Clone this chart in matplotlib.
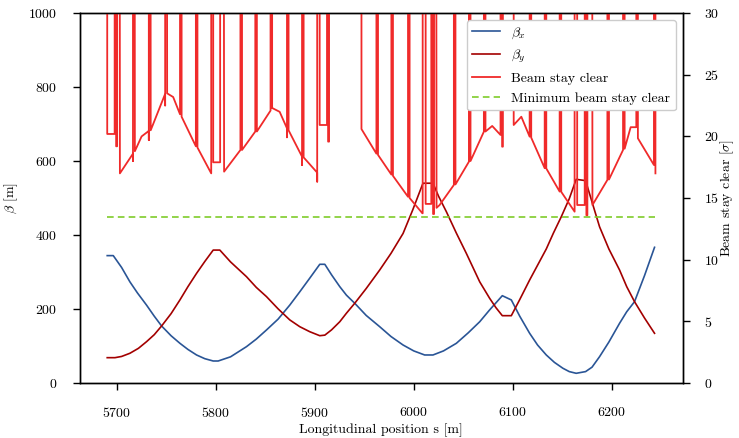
import matplotlib
matplotlib.use('Agg')
import matplotlib.pyplot as plt

plt.rcParams['font.family'] = 'serif'
plt.rcParams['font.serif'] = ['cmr10']
plt.rcParams['mathtext.fontset'] = 'cm'
plt.rcParams['axes.formatter.use_mathtext'] = True
plt.rcParams['font.size'] = 10

# beta functions [m] vs s [m]
betx_s = [5690.5, 5696.6, 5705.0, 5713.4, 5721.0, 5730.2, 5738.0, 5745.4, 5755.0, 5763.9,
          5772.0, 5780.7, 5789.0, 5797.5, 5802.5, 5815.0, 5831.1, 5841.0, 5851.3, 5863.0,
          5874.8, 5884.9, 5895.0, 5905.1, 5910.2, 5917.0, 5925.3, 5932.0, 5940.4, 5952.0,
          5965.6, 5977.0, 5989.2, 6000.0, 6011.0, 6019.4, 6030.0, 6043.0, 6055.0, 6066.6,
          6076.6, 6089.4, 6098.5, 6107.0, 6117.0, 6125.0, 6133.8, 6142.0, 6150.6, 6157.0,
          6164.0, 6173.5, 6180.0, 6187.6, 6197.0, 6207.8, 6215.0, 6222.9, 6233.0, 6243.1]
betx = [344, 344, 312, 273, 243, 210, 180, 153.5, 127, 106.6,
        90, 75, 65, 58.7, 58.7, 70, 97.5, 118, 142.7, 172,
        210, 246, 283, 320.5, 320.5, 292, 260, 237, 215, 182,
        151.6, 125, 102, 86, 75, 75, 86, 106.6, 135, 165,
        197, 235.5, 224, 180, 133.7, 102, 75, 55, 39, 30,
        25.4, 30, 42, 70.4, 110, 160.8, 192, 219.3, 290, 366.5]

bety_s = [5690.5, 5698.3, 5705.0, 5713.4, 5722.0, 5730.2, 5738.0, 5745.4, 5755.0, 5763.9,
          5772.0, 5780.7, 5789.0, 5797.5, 5804.2, 5815.0, 5831.1, 5841.0, 5851.3, 5863.0,
          5874.8, 5884.9, 5895.0, 5905.1, 5910.2, 5917.0, 5925.3, 5932.0, 5940.4, 5952.0,
          5965.6, 5977.0, 5989.2, 5999.0, 6009.3, 6019.4, 6025.0, 6032.9, 6043.0, 6053.1,
          6066.6, 6076.6, 6083.0, 6089.4, 6098.5, 6107.0, 6117.0, 6125.0, 6133.8, 6141.0,
          6148.9, 6157.0, 6164.0, 6173.5, 6180.0, 6187.6, 6197.0, 6207.8, 6215.0, 6222.9,
          6233.0, 6243.1]
bety = [67.7, 67.7, 71, 79.6, 93, 111, 130, 153.5, 187, 224,
        260, 296, 328, 359, 359, 327, 287, 258, 233, 200,
        170, 151.6, 138, 127.2, 128.7, 143, 165, 188, 215, 255,
        305, 350, 404, 468, 540, 540, 505, 463, 405, 350,
        273, 228.5, 203, 181.4, 181.4, 225, 278, 318, 362, 405,
        449, 498, 550.6, 547, 489, 422, 362, 305, 260, 219.3,
        175, 133.7]

# beam stay clear [sigma]; 60 marks aperture far outside the plotted range
bsc_s = [5690.5, 5690.5, 5698.0, 5698.0, 5699.5, 5699.5, 5700.5, 5700.5, 5703.0, 5703.3,
         5716.5, 5716.5, 5716.5, 5718.1, 5718.4, 5725.2, 5732.5, 5732.5, 5732.5, 5734.1, 5734.4,
         5748.7, 5749.0, 5749.0, 5750.6, 5751.0, 5757.1, 5764.0, 5764.0, 5765.6, 5765.6,
         5780.0, 5780.0, 5781.6, 5781.6, 5795.5, 5795.5, 5797.5, 5797.5, 5804.5, 5804.5,
         5808.0, 5808.5, 5825.0, 5825.0, 5826.6, 5826.6, 5840.0, 5840.0, 5841.6, 5841.6,
         5855.4, 5855.4, 5857.0, 5857.0, 5857.3, 5864.6, 5872.0, 5872.0, 5872.0, 5873.6, 5873.6,
         5887.2, 5887.2, 5887.2, 5888.8, 5888.8, 5902.5, 5902.5, 5902.5, 5905.0, 5905.0,
         5912.4, 5912.4, 5913.5, 5913.5, 5914.5, 5914.5, 5947.2, 5947.2,
         5962.3, 5962.3, 5963.9, 5963.9, 5977.4, 5977.4, 5979.0, 5979.0,
         5994.2, 5994.2, 5995.8, 5995.8, 6008.7, 6009.0, 6009.0, 6012.0, 6012.0, 6017.7, 6017.7,
         6019.5, 6019.5, 6020.5, 6020.5, 6022.5, 6023.0, 6026.1,
         6040.5, 6040.5, 6042.1, 6042.1, 6055.7, 6055.7, 6057.3, 6057.3,
         6070.8, 6070.8, 6072.4, 6072.4, 6079.2, 6087.6, 6087.6, 6089.2, 6089.2, 6090.0, 6090.0,
         6100.9, 6100.9, 6108.6, 6117.0, 6117.0, 6118.6, 6118.6,
         6132.2, 6132.2, 6133.8, 6133.8, 6147.3, 6147.3, 6148.9, 6148.9,
         6162.4, 6162.4, 6165.0, 6165.0, 6172.6, 6172.6, 6174.3, 6174.3, 6175.3, 6175.3, 6180.0, 6180.4,
         6195.5, 6195.5, 6197.1, 6197.1, 6211.3, 6211.3, 6212.9, 6212.9,
         6219.0, 6224.7, 6224.7, 6226.3, 6226.3, 6242.5, 6242.5, 6244.0, 6244.0]
bsc = [60, 20.2, 20.2, 60, 60, 19.2, 19.2, 60, 60, 17.0,
       18.6, 18.0, 60, 60, 18.8, 20.0, 20.45, 19.7, 60, 60, 20.5,
       23.4, 22.5, 60, 60, 23.5, 23.2, 21.8, 60, 60, 21.6,
       19.2, 60, 60, 19.1, 17.0, 60, 60, 17.9, 17.9, 60,
       60, 17.14, 18.9, 60, 60, 18.9, 20.4, 60, 60, 20.4,
       22.1, 60, 60, 22.3, 22.3, 22.0, 20.66, 19.93, 60, 60, 20.5,
       18.36, 17.68, 60, 60, 18.3, 17.06, 16.33, 60, 60, 20.93,
       20.93, 60, 60, 19.58, 19.58, 60, 60, 20.6,
       18.6, 60, 60, 18.5, 16.9, 60, 60, 16.8,
       15.1, 60, 60, 15.0, 13.76, 13.76, 60, 60, 14.52, 14.52, 60,
       60, 13.7, 13.7, 60, 60, 14.2, 14.43,
       16.06, 60, 60, 16.1, 17.95, 60, 60, 18.0,
       20.39, 60, 60, 20.4, 20.85, 20.12, 60, 60, 19.17, 19.17, 60,
       60, 20.93, 21.6, 19.98, 60, 60, 19.9,
       17.42, 60, 60, 17.4, 15.52, 60, 60, 15.5,
       13.89, 60, 60, 14.43, 14.43, 60, 60, 13.6, 13.6, 60, 60, 14.43,
       16.47, 60, 60, 16.5, 18.9, 60, 60, 19.0,
       20.75, 20.75, 60, 60, 19.85, 17.68, 60, 60, 17.0]

min_bsc = 13.45
min_bsc_s = [5690.5, 6243.5]

fig = plt.figure(figsize=(7.39, 4.38), dpi=100)
ax = fig.add_axes([0.108, 0.1263, 0.816, 0.8433])
ax2 = ax.twinx()

l1, = ax.plot(betx_s, betx, color='#2a5596', lw=1.2, label=r'$\beta_x$')
l2, = ax.plot(bety_s, bety, color='#a30000', lw=1.2, label=r'$\beta_y$')
l3, = ax2.plot(bsc_s, bsc, color='#f02a2a', lw=1.3, label='Beam stay clear')
l4, = ax2.plot(min_bsc_s, [min_bsc, min_bsc], color='#7fcc2a', lw=1.2, ls=(0, (4, 2.5)),
               label='Minimum beam stay clear')

ax.set_ylim(0, 1000)
ax2.set_ylim(0, 30)
ax.set_xticks([5700, 5800, 5900, 6000, 6100, 6200])
ax.set_yticks([0, 200, 400, 600, 800, 1000])
ax2.set_yticks([0, 5, 10, 15, 20, 25, 30])

ax.set_xlabel('Longitudinal position s [m]', labelpad=2)
ax.set_ylabel(r'$\beta$ [m]', labelpad=6)
ax2.set_ylabel(r'Beam stay clear [$\sigma$]', labelpad=0)

for a in (ax, ax2):
    a.tick_params(direction='out', length=5, width=1, pad=11)
    for sp in a.spines.values():
        sp.set_linewidth(1.0)
ax.tick_params(axis='x', pad=12)
ax2.tick_params(axis='y', pad=10)

ax2.legend(handles=[l1, l2, l3, l4], loc='upper right', framealpha=1.0,
           edgecolor='#cccccc', fontsize=10)

fig.savefig('out.png', dpi=100)
